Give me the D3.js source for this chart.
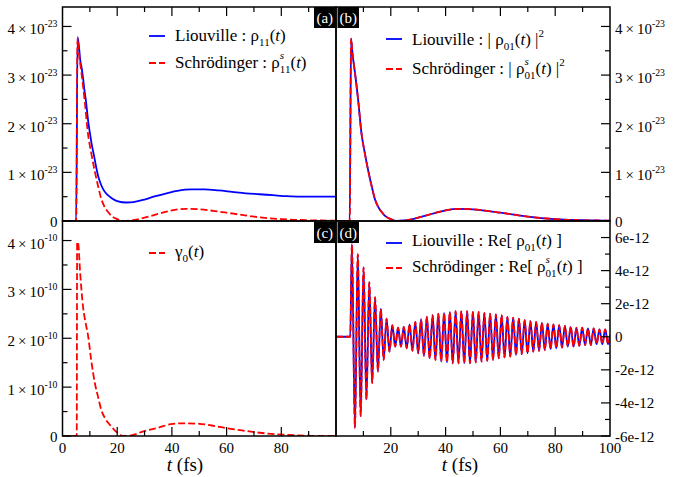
<!DOCTYPE html>
<html>
<head>
<meta charset="utf-8">
<script src="https://d3js.org/d3.v7.min.js"></script>
<style>
body { margin: 0; background: #fff; }
svg text { white-space: pre; }
</style>
</head>
<body>
<div id="chart"></div>
<script>
// values, [t (fs), value]
// (a) populations, units of 1e-23
var rho11 = [[0,0],[5.0,0],[5.5,3.78],[6.0,3.6],[6.5,3.3],[7,3.15],[7.5,2.95],[8,2.7],[8.5,2.5],[9,2.25],
  [9.5,2.0],[10,1.82],[10.6,1.6],[11.5,1.35],[12,1.2],[13,0.93],[14,0.76],[15,0.64],[16.6,0.53],[18,0.47],
  [20,0.41],[23.4,0.38],[26,0.39],[30,0.44],[34,0.51],[38,0.57],[42,0.62],[47,0.65],[52,0.65],[57,0.63],
  [62,0.6],[67,0.57],[72,0.55],[77,0.53],[82,0.51],[87,0.5],[92,0.5],[100,0.5]];
var rhoS11 = [[0,0],[5.0,0],[5.5,3.75],[6,3.45],[6.9,3.06],[8.1,2.48],[9.3,1.8],[10.5,1.4],[11.7,1.05],
  [13,0.72],[14.1,0.47],[15.3,0.3],[16.6,0.19],[18,0.1],[20,0.04],[22,0.0],[25,0.01],[28,0.04],[32,0.1],
  [36,0.16],[40,0.22],[45,0.25],[50,0.24],[55,0.21],[60,0.17],[65,0.13],[70,0.09],[75,0.06],[80,0.04],
  [85,0.025],[90,0.015],[95,0.01],[100,0.005]];
// (b) |rho01|^2, units of 1e-23 (both curves lie on top of each other)
var absRho01 = rhoS11;
var absRhoS01 = rhoS11;
// (c) gamma0, units of 1e-10
var gamma0 = [[0,0],[5.2,0],[5.35,3.97],[5.7,3.95],[6.5,3.3],[7.5,2.65],[8.5,2.3],[9.3,2.07],[10.5,1.55],
  [11.8,1.09],[13,0.8],[14.2,0.53],[15.7,0.35],[17.3,0.23],[19,0.12],[20.3,0.06],[22.2,0.0],[25,0.01],
  [29.3,0.09],[35,0.17],[40.4,0.25],[45,0.26],[50,0.25],[55,0.21],[60,0.16],[65,0.12],[70,0.08],
  [75,0.05],[80,0.03],[85,0.015],[90,0.005],[95,0],[100,0]];
// (d) Re[rho01], units of 1e-12: turning points of the oscillation
var reRho01 = [[0,0],[5.2,0],[5.8,5.6],[6.9,-5.5],[7.95,5.0],[9.0,-4.8],[10.05,4.2],[11.1,-3.8],[12.15,3.3],
  [13.2,-2.8],[14.25,2.4],[15.3,-2.1],[16.35,1.7],[17.4,-1.4],[18.45,1.1],[19.5,-0.9],[20.55,0.7],[21.6,-0.6],
  [22.65,0.55],[23.7,-0.6],[24.75,0.6],[25.8,-0.7],[26.85,0.75],[27.9,-0.85],[28.95,0.9],[30.0,-1.0],
  [31.05,1.05],[32.1,-1.15],[33.15,1.2],[34.2,-1.3],[35.25,1.3],[36.3,-1.4],[37.35,1.4],[38.4,-1.5],
  [39.45,1.45],[40.5,-1.55],[41.55,1.5],[42.6,-1.6],[43.65,1.55],[44.7,-1.6],[45.75,1.55],[46.8,-1.6],
  [47.85,1.55],[48.9,-1.6],[49.95,1.5],[51.0,-1.55],[52.05,1.5],[53.1,-1.5],[54.15,1.45],[55.2,-1.45],
  [56.25,1.4],[57.3,-1.4],[58.35,1.35],[59.4,-1.3],[60.45,1.3],[61.5,-1.25],[62.55,1.2],[63.6,-1.2],
  [64.65,1.15],[65.7,-1.1],[66.75,1.1],[67.8,-1.05],[68.85,1.0],[69.9,-1.0],[70.95,0.95],[72.0,-0.9],
  [73.05,0.9],[74.1,-0.85],[75.15,0.85],[76.2,-0.8],[77.25,0.8],[78.3,-0.75],[79.35,0.75],[80.4,-0.7],
  [81.45,0.7],[82.5,-0.65],[83.55,0.65],[84.6,-0.6],[85.65,0.6],[86.7,-0.6],[87.75,0.55],[88.8,-0.55],
  [89.85,0.55],[90.9,-0.5],[91.95,0.5],[93.0,-0.5],[94.05,0.5],[95.1,-0.45],[96.15,0.45],[97.2,-0.45],
  [98.25,0.45],[99.3,-0.45],[100,0.1]];
var reRhoS01 = reRho01;

// tick values
var xMajor = [20, 40, 60, 80], xMinor = [10, 30, 50, 70, 90];
var xLabelsLeft = [0, 20, 40, 60, 80], xLabelsRight = [20, 40, 60, 80, 100];
var yMajorA = [0, 1, 2, 3, 4], yMinorA = [0.5, 1.5, 2.5, 3.5];
var yMajorD = [-6, -4, -2, 0, 2, 4, 6], yMinorD = [-5, -3, -1, 1, 3, 5];

var width = 687, height = 477;
var x0 = 62.5, xm = 336, x1 = 610, y0 = 7, ym = 221, y1 = 436;
var blue = "#0000ff", red = "#ff0000";
var serif = "'Liberation Serif', 'DejaVu Serif', serif";

var svg = d3.select("#chart").append("svg")
  .attr("width", width).attr("height", height)
  .attr("font-family", serif);

var xLeft = d3.scaleLinear().domain([0, 100]).range([x0, xm]);
var xRight = d3.scaleLinear().domain([0, 100]).range([xm, x1]);
var yA = d3.scaleLinear().domain([0, 4.4]).range([ym, y0]);
var yC = d3.scaleLinear().domain([0, 4.4]).range([y1, ym]);
var yD = d3.scaleLinear().domain([-6, 7]).range([y1, ym]);

// rich text in one <text>: parts are [text, kind], kind = r / i / sub / sup / stack
function rich(sel, x, y, parts, fs, anchor) {
  var t = sel.append("text").attr("x", x).attr("y", y).attr("font-size", fs)
    .attr("text-anchor", anchor || "start").style("font-family", serif);
  var off = 0;
  function span(s, o, size, it) {
    var sp = t.append("tspan").attr("dy", o - off).attr("font-size", size).text(s);
    if (it) sp.style("font-style", "italic");
    off = o;
    return sp;
  }
  parts.forEach(function(p) {
    var k = p[1] || "r";
    if (k === "stack") {
      var cx = t.node().getComputedTextLength();
      span(p[0], -0.55 * fs, 0.65 * fs, true);
      span(p[2], 0.3 * fs, 0.65 * fs, false).attr("x", x + cx);
    } else if (k === "sub") span(p[0], 0.3 * fs, 0.65 * fs, false);
    else if (k === "sup") span(p[0], -0.5 * fs, 0.65 * fs, false);
    else span(p[0], 0, fs, k === "i");
  });
  return t;
}

var panels = [
  { id: "a", x: xLeft, y: yA, series: [[rho11, blue], [rhoS11, red]] },
  { id: "b", x: xRight, y: yA, series: [[absRho01, blue], [absRhoS01, red]] },
  { id: "c", x: xLeft, y: yC, series: [[gamma0, red]] },
  { id: "d", x: xRight, y: yD, series: [[reRho01, blue], [reRhoS01, red]] }
];

panels.forEach(function(p) {
  var xr = p.x.range(), yr = p.y.range();
  svg.append("clipPath").attr("id", "clip-" + p.id).append("rect")
    .attr("x", xr[0]).attr("y", yr[1]).attr("width", xr[1] - xr[0]).attr("height", yr[0] - yr[1]);
  var line = d3.line().x(function(d) { return p.x(d[0]); }).y(function(d) { return p.y(d[1]); })
    .curve(d3.curveMonotoneX);
  var g = svg.append("g").attr("clip-path", "url(#clip-" + p.id + ")");
  p.series.forEach(function(s) {
    g.append("path").attr("d", line(s[0])).attr("fill", "none")
      .attr("stroke", s[1]).attr("stroke-width", 1.8)
      .attr("stroke-dasharray", s[1] === red ? "7,3" : null);
  });
});

// frames
svg.append("g").selectAll("rect").data(panels).enter().append("rect")
  .attr("x", function(p) { return p.x.range()[0]; })
  .attr("y", function(p) { return p.y.range()[1]; })
  .attr("width", function(p) { return p.x.range()[1] - p.x.range()[0]; })
  .attr("height", function(p) { return p.y.range()[0] - p.y.range()[1]; })
  .attr("fill", "none").attr("stroke", "#000").attr("stroke-width", 1.5);

// ticks
var tk = svg.append("g").attr("stroke", "#000").attr("stroke-width", 1.2);
function xTicks(x, y, dir) {
  xMajor.forEach(function(v) { tk.append("line").attr("x1", x(v)).attr("x2", x(v)).attr("y1", y).attr("y2", y + dir * 9); });
  xMinor.forEach(function(v) { tk.append("line").attr("x1", x(v)).attr("x2", x(v)).attr("y1", y).attr("y2", y + dir * 5); });
}
function yTicks(y, x, dir, major, minor) {
  major.forEach(function(v) { tk.append("line").attr("y1", y(v)).attr("y2", y(v)).attr("x1", x).attr("x2", x + dir * 9); });
  minor.forEach(function(v) { tk.append("line").attr("y1", y(v)).attr("y2", y(v)).attr("x1", x).attr("x2", x + dir * 5); });
}
xTicks(xLeft, y0, 1); xTicks(xRight, y0, 1);
xTicks(xLeft, y1, -1); xTicks(xRight, y1, -1);
yTicks(yA, x0, 1, yMajorA, yMinorA);
yTicks(yC, x0, 1, yMajorA, yMinorA);
yTicks(yA, x1, -1, yMajorA, yMinorA);
yTicks(yD, x1, -1, yMajorD, yMinorD);

// tick labels
var fsT = 15;
function sciLabel(v, exp) {
  return v === 0 ? [["0"]] : [[v + "\u2009\u00d7\u200910"], ["-" + exp, "sup"]];
}
yMajorA.forEach(function(v) {
  var off = v === 0 ? 5.5 : 8;
  rich(svg, 57.5, yA(v) + off, sciLabel(v, 23), fsT, "end");
  rich(svg, 57.5, yC(v) + off, sciLabel(v, 10), fsT, "end");
  rich(svg, 615, yA(v) + off, sciLabel(v, 23), fsT, "start");
});
yMajorD.forEach(function(v) {
  rich(svg, 615, yD(v) + 5.5, [[v === 0 ? "0" : v + "e-12"]], fsT, "start");
});
xLabelsLeft.forEach(function(v) {
  rich(svg, xLeft(v), 453, [[String(v)]], fsT, "middle");
});
xLabelsRight.forEach(function(v) {
  rich(svg, xRight(v), 453, [[String(v)]], fsT, "middle");
});

// axis titles
rich(svg, 185, 471, [["t", "i"], [" (fs)"]], 19, "middle");
rich(svg, 460, 471, [["t", "i"], [" (fs)"]], 19, "middle");

// panel tags
[["(a)", 314, y0], ["(b)", 337.5, y0], ["(c)", 314, ym + 1], ["(d)", 337.5, ym + 1]].forEach(function(t) {
  svg.append("rect").attr("x", t[1]).attr("y", t[2]).attr("width", 21.5).attr("height", 21).attr("fill", "#000");
  rich(svg, t[1] + 10.75, t[2] + 15.5, [[t[0]]], 15, "middle").attr("fill", "#fff");
});

// legends
var fsL = 17;
function legendEntry(lx, ly, ty, color, parts) {
  svg.append("line").attr("x1", lx).attr("x2", lx + 16).attr("y1", ly).attr("y2", ly)
    .attr("stroke", color).attr("stroke-width", 1.8)
    .attr("stroke-dasharray", color === red ? "7,3" : null);
  rich(svg, lx + 26, ty, parts, fsL, "start");
}
legendEntry(149, 36, 41, blue, [["Liouville : \u03c1"], ["11", "sub"], ["("], ["t", "i"], [")"]]);
legendEntry(149, 63, 68, red, [["Schr\u00f6dinger : \u03c1"], ["s", "stack", "11"], ["("], ["t", "i"], [")"]]);
legendEntry(386, 39, 45, blue, [["Liouville : | \u03c1"], ["01", "sub"], ["("], ["t", "i"], [") |"], ["2", "sup"]]);
legendEntry(386, 69, 74, red, [["Schr\u00f6dinger : | \u03c1"], ["s", "stack", "01"], ["("], ["t", "i"], [") |"], ["2", "sup"]]);
legendEntry(149, 253, 257, red, [["\u03b3"], ["0", "sub"], ["("], ["t", "i"], [")"]]);
legendEntry(386, 243, 246, blue, [["Liouville : Re[ \u03c1"], ["01", "sub"], ["("], ["t", "i"], [") ]"]]);
legendEntry(386, 268, 272, red, [["Schr\u00f6dinger : Re[ \u03c1"], ["s", "stack", "01"], ["("], ["t", "i"], [") ]"]]);
</script>
</body>
</html>
